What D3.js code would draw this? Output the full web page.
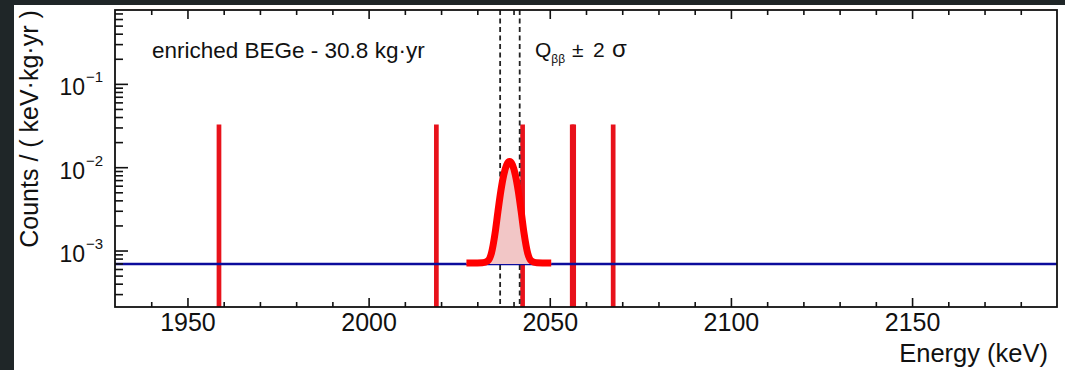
<!DOCTYPE html>
<html>
<head>
<meta charset="utf-8">
<script src="https://cdn.jsdelivr.net/npm/d3@7"></script>
<style>
  body { margin: 0; background: #ffffff; }
  svg { display: block; font-family: "Liberation Sans", Arial, Helvetica, sans-serif; }
</style>
</head>
<body>
<div id="visualization"></div>
<script>
let w = 1065;
let h = 370;
let plotLeft = 115, plotRight = 1057, plotTop = 10, plotBottom = 307;

// ---- data ----
let energyRange = [1930, 2190];
let countsRange = [2.1e-4, 0.77];
let xMajorTicks = [1950, 2000, 2050, 2100, 2150];
let xMinorTicks = [1940, 1960, 1970, 1980, 1990, 2010, 2020, 2030, 2040, 2060, 2070, 2080, 2090, 2110, 2120, 2130, 2140, 2160, 2170, 2180];
let yMajorTicks = [1e-3, 1e-2, 1e-1];
let yTickExponents = ["\u22123", "\u22122", "\u22121"];

// observed events (one count each -> 1/30.8 per keV kg yr)
let eventEnergies = [1958.7, 2018.7, 2042.5, 2056.2, 2056.6, 2067.5];
let eventHeight = 0.0325;

// flat background fit
let backgroundLevel = 6.9e-4;

// Q_bb +- 2 sigma window
let roiEdges = [2036.3, 2041.7];

// signal peak curve
let peakEnergies = [2027.0, 2030.0, 2031.4, 2032.9, 2033.9, 2034.9, 2035.7, 2036.5, 2037.3, 2038.1, 2038.9, 2039.7, 2040.5, 2041.3, 2042.1, 2042.9, 2043.9, 2044.9, 2046.4, 2048.0, 2050.4];
let peakCounts = [0.00071, 0.00071, 0.000712, 0.00075, 0.00093, 0.00161, 0.00295, 0.0052, 0.00809, 0.01065, 0.01168, 0.01065, 0.00809, 0.0052, 0.00295, 0.00161, 0.00093, 0.00075, 0.000712, 0.00071, 0.00071];

let peakData = peakEnergies.map((e, i) => ({ e: e, c: peakCounts[i] }));

let viz = d3.select("#visualization")
  .append("svg")
  .attr("width", w)
  .attr("height", h)
  .style("background-color", "#ffffff");

// dark page edges
viz.append("rect").attr("x", 0).attr("y", 0).attr("width", w).attr("height", 5).attr("fill", "#1f2628");
viz.append("rect").attr("x", 0).attr("y", 0).attr("width", 14).attr("height", h).attr("fill", "#1f2628");

// scales
let xScale = d3.scaleLinear().domain(energyRange).range([plotLeft, plotRight]);
let yScale = d3.scaleLog().domain(countsRange).range([plotBottom, plotTop]);

viz.append("clipPath").attr("id", "plotclip")
  .append("rect")
  .attr("x", plotLeft).attr("y", plotTop)
  .attr("width", plotRight - plotLeft).attr("height", plotBottom - plotTop);

let plot = viz.append("g").attr("clip-path", "url(#plotclip)");

// event lines
plot.selectAll(".event").data(eventEnergies).enter()
  .append("line")
  .attr("class", "event")
  .attr("x1", d => xScale(d))
  .attr("x2", d => xScale(d))
  .attr("y1", yScale(eventHeight))
  .attr("y2", yScale(countsRange[0]))
  .attr("stroke", "#e8121b")
  .attr("stroke-width", 4.7);

// dashed ROI lines
plot.selectAll(".roi").data(roiEdges).enter()
  .append("line")
  .attr("class", "roi")
  .attr("x1", d => xScale(d))
  .attr("x2", d => xScale(d))
  .attr("y1", plotTop)
  .attr("y2", plotBottom)
  .attr("stroke", "#222222")
  .attr("stroke-width", 1.8)
  .attr("stroke-dasharray", "5,3.5");

// background line
plot.append("line")
  .attr("x1", xScale(energyRange[0]))
  .attr("x2", xScale(energyRange[1]))
  .attr("y1", yScale(backgroundLevel))
  .attr("y2", yScale(backgroundLevel))
  .attr("stroke", "#0c0c9c")
  .attr("stroke-width", 2.6);

// peak fill + curve
let peakArea = d3.area()
  .x(d => xScale(d.e))
  .y0(yScale(backgroundLevel))
  .y1(d => yScale(d.c))
  .curve(d3.curveMonotoneX);

plot.append("path")
  .datum(peakData)
  .attr("d", peakArea)
  .attr("fill", "#f2c6c6");

let peakLine = d3.line()
  .x(d => xScale(d.e))
  .y(d => yScale(d.c))
  .curve(d3.curveMonotoneX);

plot.append("path")
  .datum(peakData)
  .attr("d", peakLine)
  .attr("fill", "none")
  .attr("stroke", "#ff0000")
  .attr("stroke-width", 7);

// ---- axes ----
// bottom
let xAxisGroup = viz.append("g").attr("transform", "translate(0," + plotBottom + ")");
xAxisGroup.call(d3.axisBottom(xScale).tickValues(xMinorTicks).tickSize(-5).tickFormat(""));
let xMajor = viz.append("g").attr("transform", "translate(0," + plotBottom + ")");
xMajor.call(d3.axisBottom(xScale).tickValues(xMajorTicks).tickSize(-9).tickPadding(6).tickFormat(d3.format("d")));
xMajor.selectAll("text")
  .attr("font-size", 25)
  .attr("fill", "#111")
  .attr("font-family", "Liberation Sans, Arial, sans-serif");

// top
let xTopGroup = viz.append("g").attr("transform", "translate(0," + plotTop + ")");
xTopGroup.call(d3.axisTop(xScale).tickValues(xMinorTicks).tickSize(-5).tickFormat(""));
let xTopMajor = viz.append("g").attr("transform", "translate(0," + plotTop + ")");
xTopMajor.call(d3.axisTop(xScale).tickValues(xMajorTicks).tickSize(-9).tickFormat(""));

// left (log)
let yMinorTicks = yScale.ticks().filter(t => yMajorTicks.indexOf(t) < 0);
let yAxisGroup = viz.append("g").attr("transform", "translate(" + plotLeft + ",0)");
yAxisGroup.call(d3.axisLeft(yScale).tickValues(yMinorTicks).tickSize(-8).tickFormat(""));
let yMajor = viz.append("g").attr("transform", "translate(" + plotLeft + ",0)");
yMajor.call(d3.axisLeft(yScale).tickValues(yMajorTicks).tickSize(-13).tickFormat(""));

[xAxisGroup, xMajor, xTopGroup, xTopMajor, yAxisGroup, yMajor].forEach(g => {
  g.select(".domain").remove();
  g.selectAll("line").attr("stroke", "#111").attr("stroke-width", 1.6);
});

// y tick labels 10^n
let yLabels = viz.selectAll(".ylabel").data(yMajorTicks).enter()
  .append("g")
  .attr("class", "ylabel");
yLabels.append("text")
  .attr("x", 85)
  .attr("y", d => yScale(d) + 11.5)
  .attr("text-anchor", "end")
  .attr("font-size", 23)
  .attr("fill", "#111")
  .text("10");
yLabels.append("text")
  .attr("x", 86)
  .attr("y", d => yScale(d) - 1.5)
  .attr("text-anchor", "start")
  .attr("font-size", 15)
  .attr("fill", "#111")
  .text((d, i) => yTickExponents[i]);

// frame
viz.append("rect")
  .attr("x", plotLeft).attr("y", plotTop)
  .attr("width", plotRight - plotLeft).attr("height", plotBottom - plotTop)
  .attr("fill", "none")
  .attr("stroke", "#111")
  .attr("stroke-width", 1.8);

// axis titles
viz.append("text")
  .attr("transform", "translate(38,129) rotate(-90)")
  .attr("text-anchor", "middle")
  .attr("font-size", 25)
  .attr("fill", "#111")
  .text("Counts / ( keV\u00b7kg\u00b7yr )");

viz.append("text")
  .attr("x", 1048)
  .attr("y", 362)
  .attr("text-anchor", "end")
  .attr("font-size", 25.5)
  .attr("fill", "#111")
  .text("Energy (keV)");

// annotations
viz.append("text")
  .attr("x", 152)
  .attr("y", 58)
  .attr("font-size", 22.5)
  .attr("fill", "#111")
  .text("enriched BEGe - 30.8 kg\u00b7yr");

let qLabel = viz.append("text")
  .attr("x", 535)
  .attr("y", 57)
  .attr("font-size", 21)
  .attr("fill", "#111");
qLabel.append("tspan").text("Q");
qLabel.append("tspan").attr("font-size", 12).attr("dy", 6).text("\u03b2\u03b2");
qLabel.append("tspan").attr("x", 572).attr("dy", -6).text("\u00b1");
qLabel.append("tspan").attr("x", 593).text("2");
qLabel.append("tspan").attr("x", 612).attr("font-size", 24).text("\u03c3");
</script>
</body>
</html>
